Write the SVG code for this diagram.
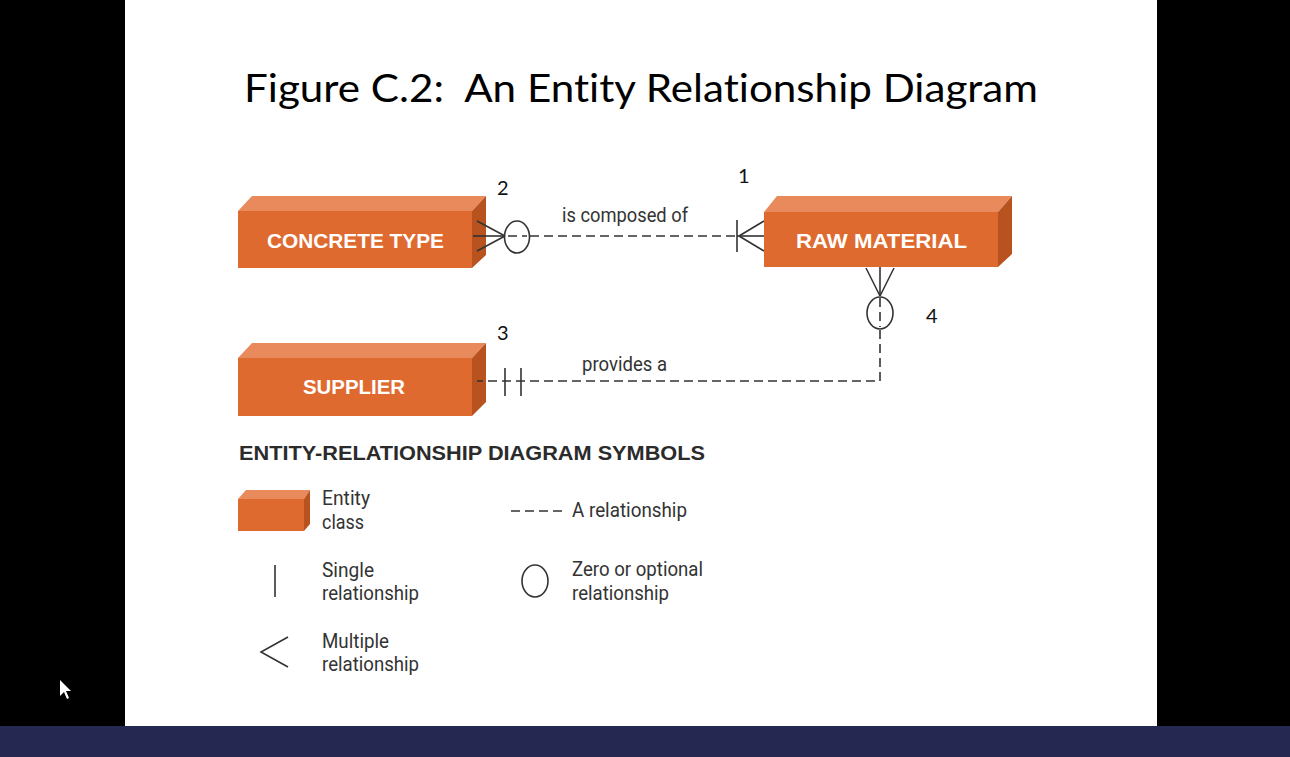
<svg xmlns="http://www.w3.org/2000/svg" width="1290" height="757" viewBox="0 0 1290 757">
<defs>
<style>
.front{fill:#df6a2f}
.top{fill:#e98a5c}
.side{fill:#b8531f}
.lbl{font-family:"Liberation Sans",Arial,sans-serif;font-weight:bold;fill:#ffffff;font-size:20px}
.num{font-family:Lato,"Open Sans",sans-serif;fill:#111;font-size:20px}
.txt{font-family:Roboto,"Liberation Sans",sans-serif;fill:#333;font-size:20px}
.ln{stroke:#333;stroke-width:1.6;fill:none}
.dash{stroke:#333;stroke-width:1.6;fill:none;stroke-dasharray:9 5}
</style>
</defs>
<rect x="0" y="0" width="1290" height="757" fill="#000"/>
<rect x="125" y="0" width="1032" height="726" fill="#fff"/>
<rect x="0" y="726" width="1290" height="31" fill="#252850"/>
<polygon points="60,680 60,696 64,692 67,699 69,698 66,691 71,691" fill="#fff"/>

<text x="244" y="102" font-family="Lato,'Open Sans',sans-serif" font-size="38" fill="#000" style="font-variant-ligatures:none" textLength="794" lengthAdjust="spacingAndGlyphs">Figure C.2:&#160; An Entity Relationship Diagram</text>

<g id="concrete-type">
<polygon class="top" points="238,211 252,196 486,196 472,211"/>
<polygon class="side" points="472,211 486,196 486,255 472,268"/>
<rect class="front" x="238" y="211" width="234" height="57"/>
<text class="lbl" x="267" y="248" textLength="177" lengthAdjust="spacingAndGlyphs">CONCRETE TYPE</text>
</g>

<g id="raw-material">
<polygon class="top" points="764,212 777,196 1012,196 998,212"/>
<polygon class="side" points="998,212 1012,196 1012,254 998,267"/>
<rect class="front" x="764" y="212" width="234" height="55"/>
<text class="lbl" x="796" y="248" textLength="171" lengthAdjust="spacingAndGlyphs">RAW MATERIAL</text>
</g>

<g id="supplier">
<polygon class="top" points="238,358 252,343 486,343 472,358"/>
<polygon class="side" points="472,358 486,343 486,402 472,416"/>
<rect class="front" x="238" y="358" width="234" height="58"/>
<text class="lbl" x="303" y="394" textLength="102" lengthAdjust="spacingAndGlyphs">SUPPLIER</text>
</g>

<g id="connectors">
<line class="ln" x1="473" y1="236" x2="505" y2="236"/>
<line class="ln" x1="477" y1="221" x2="505" y2="236"/>
<line class="ln" x1="477" y1="251" x2="505" y2="236"/>
<ellipse class="ln" cx="517" cy="237" rx="12.5" ry="16"/>
<line class="dash" x1="508" y1="236" x2="527" y2="236" stroke-dasharray="6 4"/>
<line class="dash" x1="530" y1="236" x2="736" y2="236"/>
<line class="ln" x1="737" y1="220" x2="737" y2="252"/>
<line class="ln" x1="737" y1="236" x2="764" y2="236"/>
<line class="ln" x1="764" y1="221" x2="739" y2="236"/>
<line class="ln" x1="764" y1="251" x2="739" y2="236"/>
<line class="ln" x1="866" y1="268" x2="880" y2="296"/>
<line class="ln" x1="894" y1="268" x2="880" y2="296"/>
<line class="ln" x1="880" y1="267" x2="880" y2="296"/>
<ellipse class="ln" cx="880" cy="313" rx="13" ry="16"/>
<line class="dash" x1="880" y1="298" x2="880" y2="327" stroke-dasharray="5 4"/>
<polyline class="dash" points="880,330 880,381 477,381"/>
<line class="ln" x1="505" y1="368" x2="505" y2="396"/>
<line class="ln" x1="521" y1="368" x2="521" y2="396"/>
</g>

<g id="labels">
<text class="txt" x="562" y="222" textLength="126" lengthAdjust="spacingAndGlyphs">is composed of</text>
<text class="txt" x="582" y="371" textLength="85" lengthAdjust="spacingAndGlyphs">provides a</text>
<text class="num" x="738" y="183">1</text>
<text class="num" x="497" y="195">2</text>
<text class="num" x="497" y="340">3</text>
<text class="num" x="926" y="323">4</text>
</g>

<g id="legend">
<text x="239" y="460" font-family="'Liberation Sans',Arial,sans-serif" font-weight="bold" font-size="21" fill="#2b2b2b" textLength="466" lengthAdjust="spacingAndGlyphs">ENTITY-RELATIONSHIP DIAGRAM SYMBOLS</text>
<g id="legend-entity">
<polygon class="top" points="238,499 246,490 310,490 304,499"/>
<polygon class="side" points="304,499 310,490 310,524 304,531"/>
<rect class="front" x="238" y="499" width="66" height="32"/>
<text class="txt" x="322" y="505" textLength="48" lengthAdjust="spacingAndGlyphs">Entity</text>
<text class="txt" x="322" y="529" textLength="42" lengthAdjust="spacingAndGlyphs">class</text>
</g>
<g id="legend-relationship">
<line class="dash" x1="511" y1="511" x2="562" y2="511" stroke-dasharray="9 5"/>
<text class="txt" x="572" y="517" textLength="115" lengthAdjust="spacingAndGlyphs">A relationship</text>
</g>
<g id="legend-single">
<line class="ln" x1="275" y1="565" x2="275" y2="597"/>
<text class="txt" x="322" y="577" textLength="52" lengthAdjust="spacingAndGlyphs">Single</text>
<text class="txt" x="322" y="600" textLength="97" lengthAdjust="spacingAndGlyphs">relationship</text>
</g>
<g id="legend-zero">
<ellipse class="ln" cx="535" cy="581" rx="13" ry="16"/>
<text class="txt" x="572" y="576" textLength="131" lengthAdjust="spacingAndGlyphs">Zero or optional</text>
<text class="txt" x="572" y="600" textLength="97" lengthAdjust="spacingAndGlyphs">relationship</text>
</g>
<g id="legend-multiple">
<polyline class="ln" points="288,637 261,652 288,667"/>
<text class="txt" x="322" y="648" textLength="67" lengthAdjust="spacingAndGlyphs">Multiple</text>
<text class="txt" x="322" y="671" textLength="97" lengthAdjust="spacingAndGlyphs">relationship</text>
</g>
</g>
</svg>
